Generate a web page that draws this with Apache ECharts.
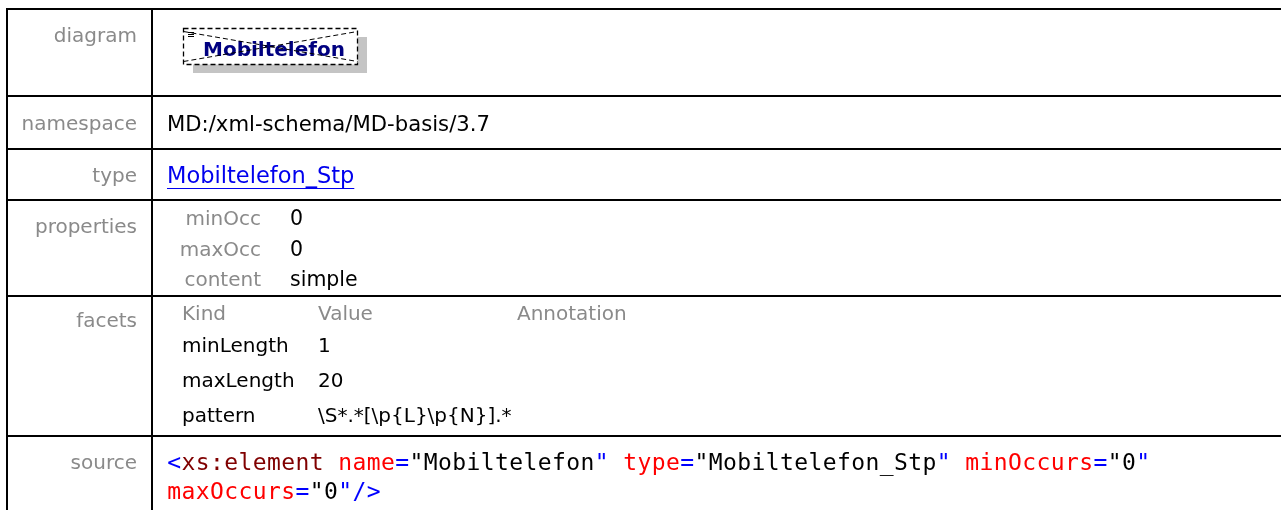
<!DOCTYPE html>
<html>
<head>
<meta charset="utf-8">
<script src="https://cdn.jsdelivr.net/npm/echarts@6/dist/echarts.min.js"></script>
<style>
html,body{margin:0;padding:0;background:#fff;}
#chart{width:1281px;height:510px;}
</style>
</head>
<body>
<div id="chart"></div>
<script>
// ---- data ----
const rowLabels = ['diagram', 'namespace', 'type', 'properties', 'facets', 'source'];
const diagramName = 'Mobiltelefon';
const namespaceValue = 'MD:/xml-schema/MD-basis/3.7';
const typeValue = 'Mobiltelefon_Stp';
const propKeys = ['minOcc', 'maxOcc', 'content'];
const propValues = ['0', '0', 'simple'];
const facetHeaders = ['Kind', 'Value', 'Annotation'];
const facetKinds = ['minLength', 'maxLength', 'pattern'];
const facetValues = ['1', '20', '\\S*.*[\\p{L}\\p{N}].*'];
// source tokens: [text, role]
const sourceLine1 = [
  ['<', 'punct'], ['xs:element', 'tag'], [' ', 'plain'],
  ['name', 'attr'], ['=', 'punct'], ['"Mobiltelefon', 'value'], ['"', 'punct'], [' ', 'plain'],
  ['type', 'attr'], ['=', 'punct'], ['"Mobiltelefon_Stp', 'value'], ['"', 'punct'], [' ', 'plain'],
  ['minOccurs', 'attr'], ['=', 'punct'], ['"0', 'value'], ['"', 'punct']
];
const sourceLine2 = [
  ['maxOccurs', 'attr'], ['=', 'punct'], ['"0', 'value'], ['"', 'punct'], ['/>', 'punct']
];

// ---- layout / style ----
const FONT = '"DejaVu Sans", sans-serif';
const MONO = '"DejaVu Sans Mono", monospace';
const GRAY = '#8a8a8a';
const roleColor = { punct: '#0000ff', tag: '#800000', attr: '#ff0000', value: '#000000', plain: '#000000' };
const hLines = [9, 96, 149, 200, 296, 436];
const leftX = 7, colX = 152, W = 1281, H = 510;
const labelY = [37, 125, 177, 228, 322, 464];
const valueX = 167;

const ctx = document.createElement('canvas').getContext('2d');
function measure(t, font) { ctx.font = font; return ctx.measureText(t).width; }

const els = [];
function txt(x, y, text, opt) {
  opt = opt || {};
  els.push({
    type: 'text', x: x, y: y, silent: true,
    style: {
      text: text, fill: opt.fill || '#000',
      font: (opt.weight || 'normal') + ' ' + (opt.size || 20) + 'px ' + (opt.family || FONT),
      align: opt.align || 'left', verticalAlign: 'middle'
    }
  });
}
function line(x1, y1, x2, y2, opt) {
  opt = opt || {};
  els.push({
    type: 'line', silent: true,
    shape: { x1: x1, y1: y1, x2: x2, y2: y2 },
    style: { stroke: opt.stroke || '#000', lineWidth: opt.w || 2, lineDash: opt.dash || null }
  });
}

// grid lines
hLines.forEach(y => line(leftX - 1, y, W, y));
line(leftX, hLines[0] - 1, leftX, H);
line(colX, hLines[0] - 1, colX, H);

// row labels
rowLabels.forEach((l, i) => txt(137, labelY[i], l, { fill: GRAY, align: 'right' }));

// diagram
const bx = 183.5, by = 28.5, bw = 174, bh = 36;
els.push({ type: 'rect', silent: true, shape: { x: 193, y: 37, width: 174, height: 36 }, style: { fill: '#c4c4c4' } });
els.push({ type: 'rect', silent: true, shape: { x: bx, y: by, width: bw, height: bh }, style: { fill: '#fff', stroke: '#000', lineWidth: 1.3, lineDash: [5, 3] } });
txt(274, 51, diagramName, { fill: '#000080', weight: 'bold', size: 20, align: 'center' });
line(bx, by + 3, bx + bw, by + bh - 3, { w: 1, dash: [5, 3] });
line(bx, by + bh - 3, bx + bw, by + 3, { w: 1, dash: [5, 3] });
[32.5, 34.5, 36.5].forEach(y => line(188, y, 194, y, { w: 1 }));

// namespace
txt(valueX, labelY[1], namespaceValue, { size: 21.2 });
// type (link)
txt(valueX, labelY[2], typeValue, { fill: '#0000ee', size: 22.5 });
line(valueX, 188.5, valueX + measure(typeValue, '22.5px ' + FONT), 188.5, { stroke: '#0000ee', w: 1 });

// properties
const propY = [220, 251, 281];
propKeys.forEach((k, i) => {
  txt(261, propY[i], k, { fill: GRAY, align: 'right' });
  txt(290, propY[i], propValues[i], { size: 20.5 });
});

// facets
const facetColX = [182, 318, 517];
facetHeaders.forEach((h, i) => txt(facetColX[i], 315, h, { fill: GRAY, size: 20 }));
const facetY = [347, 382, 417];
facetKinds.forEach((k, i) => {
  txt(182, facetY[i], k, { size: 20 });
  txt(318, facetY[i], facetValues[i], { size: 20 });
});

// source (monospace, fixed columns)
const ADV = 14.25;
function srcLine(tokens, y) {
  let col = 0;
  tokens.forEach(([t, role]) => {
    for (const ch of t) {
      if (ch !== ' ') {
        txt(valueX + col * ADV + ADV / 2, y, ch, { fill: roleColor[role], family: MONO, size: 23, align: 'center' });
      }
      col++;
    }
  });
}
srcLine(sourceLine1, 464);
srcLine(sourceLine2, 493);

const chart = echarts.init(document.getElementById('chart'), null, { renderer: 'canvas', width: W, height: H });
chart.setOption({ animation: false, backgroundColor: '#fff', graphic: { elements: els } });
</script>
</body>
</html>
